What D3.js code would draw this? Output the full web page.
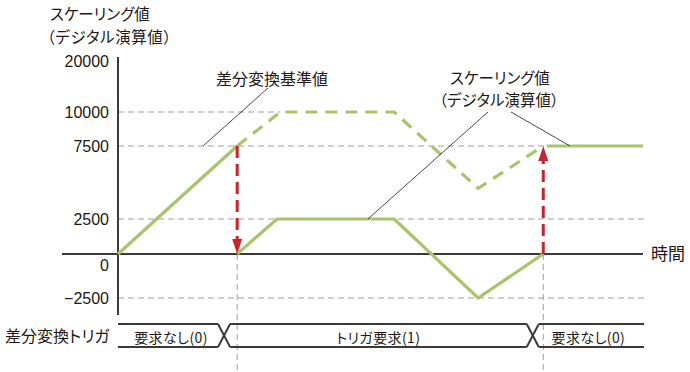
<!DOCTYPE html>
<html>
<head>
<meta charset="utf-8">
<script src="https://cdn.jsdelivr.net/npm/d3@7"></script>
<style>
  html, body { margin: 0; padding: 0; background: #fff; }
  svg text { font-family: "Noto Sans CJK JP", "Liberation Sans", sans-serif; font-feature-settings: "palt"; fill: #231815; }
  .num { font-family: "Liberation Sans", Arial, sans-serif; }
</style>
</head>
<body>
<svg id="chart" width="690" height="372"></svg>
<script>
// --- data (time in % of the time axis, value in digits) ---
const yTicks = [-2500, 0, 2500, 7500, 10000, 20000];
const gridValues = [10000, 7500, 2500, -2500];
const solidA = [[0, 0], [22.7, 7500]];
const solidB = [[22.7, 0], [30.3, 2500], [52.6, 2500], [68.6, -2500], [81, 0]];
const solidC = [[81.7, 7500], [100, 7500]];
const dashedRef = [[22.7, 7500], [30.9, 10000], [52.6, 10000], [68.6, 4600], [81, 7500]];
const triggerTimes = [22.7, 81];
const stateEdges = [0, 20.2, 79, 100.2];
const stateLabels = ['要求なし(0)', 'トリガ要求(1)', '要求なし(0)'];

const green = '#a9c46c', red = '#c8242b', dark = '#3e3a39', grey = '#9d9d9d';

const svg = d3.select('#chart');
const x = d3.scaleLinear().domain([0, 100]).range([118, 643]);
// the value axis is not linear in the drawing: piecewise scale
const y = d3.scaleLinear().domain(yTicks).range([298, 254, 219, 146, 112, 61]);
const line = d3.line().x(d => x(d[0])).y(d => y(d[1]));

// grid lines (each stops where the trace takes over)
const gridEnd = {10000: dashedRef[1][0], 7500: solidC[0][0], 2500: 100.8, '-2500': 100.8};
svg.append('g').selectAll('line').data(gridValues).enter().append('line')
  .attr('x1', x(0)).attr('x2', d => x(gridEnd[d]))
  .attr('y1', d => y(d)).attr('y2', d => y(d))
  .attr('stroke', grey).attr('stroke-width', 1).attr('stroke-dasharray', '6,4');

// vertical guides at the trigger instants
svg.append('g').selectAll('line').data(triggerTimes).enter().append('line')
  .attr('x1', d => x(d)).attr('x2', d => x(d))
  .attr('y1', y(0)).attr('y2', 372)
  .attr('stroke', grey).attr('stroke-width', 1).attr('stroke-dasharray', '6,4');

// y axis labels via d3 axis
const yAxis = svg.append('g').attr('transform', `translate(${x(0)},0)`)
  .call(d3.axisLeft(y).tickValues(yTicks).tickSize(0).tickPadding(9)
    .tickFormat(d => d < 0 ? '\u2212' + Math.abs(d) : d));
yAxis.select('.domain').remove();
yAxis.selectAll('text').attr('class', 'num').attr('font-size', 16)
  .style('font-family', '"Liberation Sans", Arial, sans-serif').attr('fill', '#231815')
  .attr('dy', d => d === 0 ? '1.0em' : '0.36em');

// axes lines
svg.append('line').attr('x1', x(0)).attr('x2', x(0)).attr('y1', y(20000) - 4).attr('y2', y(-2500) + 17)
  .attr('stroke', dark).attr('stroke-width', 2);
svg.append('line').attr('x1', 62).attr('x2', x(100)).attr('y1', y(0)).attr('y2', y(0))
  .attr('stroke', dark).attr('stroke-width', 2);

// traces
[solidA, solidB, solidC].forEach(s => {
  svg.append('path').datum(s).attr('d', line)
    .attr('fill', 'none').attr('stroke', green).attr('stroke-width', 3.2).attr('stroke-linejoin', 'round');
});
svg.append('path').datum(dashedRef).attr('d', line)
  .attr('fill', 'none').attr('stroke', green).attr('stroke-width', 3.2).attr('stroke-dasharray', '12,8');

// red arrows: down at first trigger, up at second
const arrows = [{t: triggerTimes[0], from: 7500, to: 0}, {t: triggerTimes[1], from: 0, to: 7500}];
arrows.forEach(a => {
  const xa = x(a.t), y0 = y(a.from), y1 = y(a.to), dir = y1 > y0 ? 1 : -1, head = 15;
  svg.append('line').attr('x1', xa).attr('x2', xa).attr('y1', y0).attr('y2', y1 - dir * head)
    .attr('stroke', red).attr('stroke-width', 3).attr('stroke-dasharray', '12,6');
  svg.append('path').attr('d', `M${xa},${y1} L${xa - 5},${y1 - dir * head} L${xa + 5},${y1 - dir * head} Z`)
    .attr('fill', red);
});

// leader lines and annotations
const leaders = [
  {from: [268, 88], to: [16.2, 7500]},
  {from: [488, 112], to: [47.6, 2500]},
  {from: [511, 112], to: [86.1, 7500]}
];
leaders.forEach(l => {
  svg.append('line').attr('x1', l.from[0]).attr('y1', l.from[1])
    .attr('x2', x(l.to[0])).attr('y2', y(l.to[1]))
    .attr('stroke', '#231815').attr('stroke-width', 0.8);
});
svg.append('text').attr('x', 272).attr('y', 85).attr('text-anchor', 'middle').attr('font-size', 16).text('差分変換基準値');
svg.append('text').attr('x', 500).attr('y', 84).attr('text-anchor', 'middle').attr('font-size', 15.5).text('スケーリング値');
svg.append('text').attr('x', 499).attr('y', 106).attr('text-anchor', 'middle').attr('font-size', 15.5).text('（デジタル演算値）');

// axis titles
svg.append('text').attr('x', 50).attr('y', 20).attr('font-size', 15.5).text('スケーリング値');
svg.append('text').attr('x', 47).attr('y', 43).attr('font-size', 15.5).attr('letter-spacing', 0.6).text('（デジタル演算値）');
svg.append('text').attr('x', 651).attr('y', 260).attr('font-size', 17).text('時間');

// trigger timing diagram
const tTop = 324, tBot = 347, hw = 6;
const tg = svg.append('g').attr('stroke', dark).attr('stroke-width', 2).attr('fill', 'none');
for (let i = 0; i < stateLabels.length; i++) {
  const xs = x(stateEdges[i]) + (i > 0 ? hw : 0);
  const xe = x(stateEdges[i + 1]) - (i < stateLabels.length - 1 ? hw : 0);
  tg.append('line').attr('x1', xs).attr('x2', xe).attr('y1', tTop).attr('y2', tTop);
  tg.append('line').attr('x1', xs).attr('x2', xe).attr('y1', tBot).attr('y2', tBot);
  svg.append('text').attr('x', (x(stateEdges[i]) + x(stateEdges[i + 1])) / 2).attr('y', 343)
    .attr('text-anchor', 'middle').attr('font-size', 14).attr('letter-spacing', 0.4).text(stateLabels[i]);
}
stateEdges.slice(1, -1).forEach(e => {
  const xc = x(e);
  tg.append('line').attr('x1', xc - hw).attr('y1', tTop).attr('x2', xc + hw).attr('y2', tBot);
  tg.append('line').attr('x1', xc - hw).attr('y1', tBot).attr('x2', xc + hw).attr('y2', tTop);
});
svg.append('text').attr('x', 5).attr('y', 342).attr('font-size', 16).text('差分変換トリガ');
</script>
</body>
</html>
